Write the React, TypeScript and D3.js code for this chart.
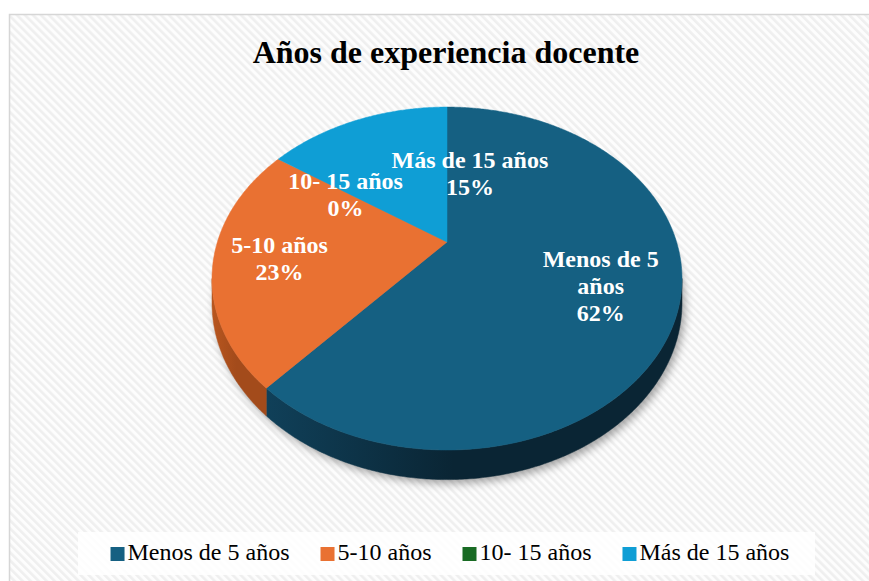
import React, { useEffect, useRef } from "react";
import * as d3 from "d3";

const title = "Años de experiencia docente";
const categories = ["Menos de 5 años", "5-10 años", "10- 15 años", "Más de 15 años"];
// shares estimated from slice geometry (labels show rounded percentages)
const values = [61.5, 23.1, 0, 15.4];
const colors = ["#156082", "#E97132", "#196B24", "#0F9ED5"];
const sideColors = [
  ["#104059", "#0a2534"],
  ["#b8561f", "#a34b1b"],
  ["#124d1a", "#0e3c14"],
  ["#0b7aa6", "#096a90"],
];
const labelNameLines = [["Menos de 5", "años"], ["5-10 años"], ["10- 15 años"], ["Más de 15 años"]];

const W = 869;
const H = 581;
const FONT = "'Times New Roman', 'Liberation Serif', serif";

// perspective pie geometry
const CX = 447;
const CY = 242;
const RA = 229.6;
const RB = 163.7;
const K = 0.213;
const DEPTH = 23.3;

// per-label placement (radius fraction along mid angle, plus nudges)
const labelLayout = [
  { r: 0.7, dx: -5, dy: 1 },
  { r: 0.7, dx: -5, dy: 2 },
  { r: 0.55, dx: -4, dy: 0 },
  { r: 0.7, dx: 89, dy: 21 },
];

function proj(theta: number, r = 1): [number, number] {
  const u = r * Math.sin(theta);
  const v = r * Math.cos(theta);
  const w = 1 + K * v;
  return [CX + (RA * u) / w, CY - (RB * v) / w];
}
function depthAt(theta: number) {
  return DEPTH / (1 + K * Math.cos(theta));
}
function samples(a0: number, a1: number) {
  const n = Math.max(2, Math.ceil(Math.abs(a1 - a0) / (Math.PI / 360)));
  return d3.range(n + 1).map((i) => a0 + ((a1 - a0) * i) / n);
}

export default function App() {
  const ref = useRef<SVGSVGElement>(null);

  useEffect(() => {
    const svg = d3.select(ref.current);
    svg.selectAll("*").remove();

    const defs = svg.append("defs");
    const pat = defs
      .append("pattern")
      .attr("id", "bgpat")
      .attr("patternUnits", "userSpaceOnUse")
      .attr("width", 5.66)
      .attr("height", 10)
      .attr("patternTransform", "rotate(-45)");
    pat.append("rect").attr("width", 5.66).attr("height", 10).attr("fill", "#fdfdfd");
    pat.append("rect").attr("width", 2.6).attr("height", 10).attr("fill", "#efefef");

    const filt = defs
      .append("filter")
      .attr("id", "shadow")
      .attr("x", "-20%")
      .attr("y", "-20%")
      .attr("width", "140%")
      .attr("height", "140%");
    filt.append("feGaussianBlur").attr("stdDeviation", 4);

    const line = d3.line<[number, number]>();

    // background
    svg
      .append("rect")
      .attr("x", 9.5)
      .attr("y", 14.5)
      .attr("width", W + 10)
      .attr("height", H + 10)
      .attr("fill", "url(#bgpat)")
      .attr("stroke", "#d6d6d6")
      .attr("stroke-width", 1.5);

    // title
    svg
      .append("text")
      .attr("x", 446)
      .attr("y", 63)
      .attr("text-anchor", "middle")
      .attr("font-family", FONT)
      .attr("font-weight", "bold")
      .attr("font-size", 32)
      .attr("fill", "#000")
      .text(title);

    const arcs = d3.pie<number>().sort(null).value((d) => d)(values);

    // shadow
    const full = samples(0, 2 * Math.PI);
    const bottomLoop = full.map((t) => {
      const p = proj(t);
      return [p[0] + 3, p[1] + depthAt(t) + 4] as [number, number];
    });
    svg
      .append("path")
      .attr("d", line(bottomLoop) + "Z")
      .attr("fill", "rgba(0,0,0,0.35)")
      .attr("filter", "url(#shadow)");

    // sides
    const f0 = Math.acos(-K);
    const f1 = 2 * Math.PI - f0;
    arcs.forEach((a, i) => {
      const s = Math.max(a.startAngle, f0);
      const e = Math.min(a.endAngle, f1);
      if (e <= s) return;
      const ts = samples(s, e);
      const top = ts.map((t) => proj(t));
      const bot = ts
        .slice()
        .reverse()
        .map((t) => {
          const p = proj(t);
          return [p[0], p[1] + depthAt(t)] as [number, number];
        });
      const pts = top.concat(bot);
      const gid = `side${i}`;
      const xs = pts.map((p) => p[0]);
      const g = defs
        .append("linearGradient")
        .attr("id", gid)
        .attr("gradientUnits", "userSpaceOnUse")
        .attr("x1", d3.min(xs)!)
        .attr("x2", d3.max(xs)!)
        .attr("y1", 0)
        .attr("y2", 0);
      g.append("stop").attr("offset", 0).attr("stop-color", sideColors[i][0]);
      g.append("stop").attr("offset", 0.45).attr("stop-color", sideColors[i][1]);
      g.append("stop").attr("offset", 1).attr("stop-color", sideColors[i][1]);
      svg
        .append("path")
        .attr("d", line(pts) + "Z")
        .attr("fill", `url(#${gid})`)
        .attr("stroke", `url(#${gid})`)
        .attr("stroke-width", 0.5);
    });

    // top faces
    arcs.forEach((a, i) => {
      if (a.endAngle - a.startAngle <= 0) return;
      const pts: [number, number][] = [[CX, CY], ...samples(a.startAngle, a.endAngle).map((t) => proj(t))];
      svg
        .append("path")
        .attr("d", line(pts) + "Z")
        .attr("fill", colors[i])
        .attr("stroke", colors[i])
        .attr("stroke-width", 0.5);
    });

    // labels
    arcs.forEach((a, i) => {
      const mid = (a.startAngle + a.endAngle) / 2;
      const L = labelLayout[i];
      const p = proj(mid, L.r);
      const ax = p[0] + L.dx;
      const ay = p[1] + L.dy;
      const lines = [...labelNameLines[i], `${Math.round(values[i])}%`];
      const lh = 27;
      const y0 = ay - ((lines.length - 1) * lh) / 2 + 8.4;
      const t = svg
        .append("text")
        .attr("text-anchor", "middle")
        .attr("font-family", FONT)
        .attr("font-weight", "bold")
        .attr("font-size", 24)
        .attr("fill", "#ffffff");
      lines.forEach((ln, j) => {
        t.append("tspan").attr("x", ax).attr("y", y0 + j * lh).text(ln);
      });
    });

    // legend
    svg
      .append("rect")
      .attr("x", 78)
      .attr("y", 532)
      .attr("width", 737)
      .attr("height", 43)
      .attr("fill", "#ffffff")
      .attr("opacity", 0.85);
    const lg = svg.append("g");
    const items = categories.map((c, i) => {
      const g = lg.append("g");
      g.append("rect").attr("x", 0).attr("y", 547).attr("width", 14).attr("height", 14).attr("fill", colors[i]);
      const tx = g
        .append("text")
        .attr("x", 17)
        .attr("y", 560)
        .attr("font-family", FONT)
        .attr("font-size", 24)
        .attr("fill", "#000")
        .text(c);
      const tw = (tx.node() as SVGTextElement).getComputedTextLength();
      return { g, w: 17 + tw };
    });
    const gap = 31;
    const total = d3.sum(items, (d) => d.w) + gap * (items.length - 1);
    let x = 450 - total / 2;
    items.forEach((it) => {
      it.g.attr("transform", `translate(${x},0)`);
      x += it.w + gap;
    });
  }, []);

  return (
    <svg
      ref={ref}
      width={W}
      height={H}
      style={{ position: "absolute", left: 0, top: 0, display: "block", background: "#fff" }}
    />
  );
}
